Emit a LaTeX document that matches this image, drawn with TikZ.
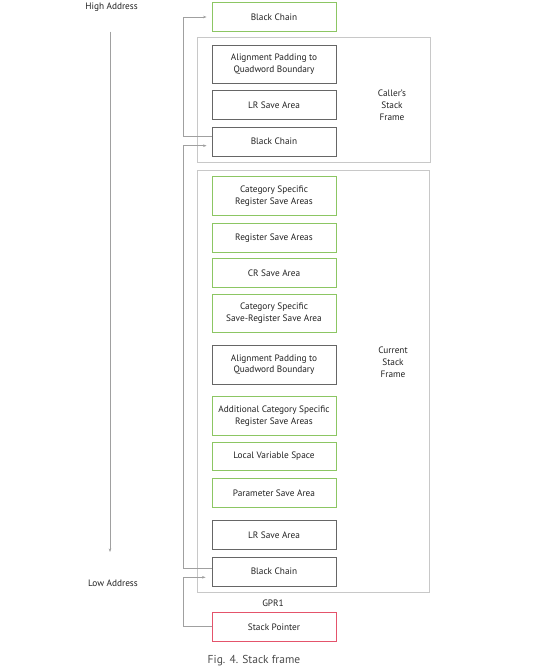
\documentclass[tikz,border=0pt]{standalone}
\usepackage{fontspec}
\setmainfont{PT Sans}
\usetikzlibrary{arrows.meta}
\definecolor{gborder}{HTML}{8CC663}
\definecolor{dborder}{HTML}{666666}
\definecolor{rborder}{HTML}{E4536B}
\definecolor{frameC}{HTML}{C8C8C8}
\definecolor{connC}{HTML}{A0A0A0}
\definecolor{txtC}{HTML}{222222}
\tikzset{
  box/.style={draw, line width=0.9pt, minimum width=124pt, align=center, inner sep=1pt,
    text=txtC, font=\fontsize{9.3}{11.8}\selectfont},
  one/.style={minimum height=28.7pt},
  two/.style={minimum height=38.6pt},
  gbox/.style={box, draw=gborder},
  dbox/.style={box, draw=dborder},
  rbox/.style={box, draw=rborder},
  frameb/.style={draw=frameC, line width=0.9pt},
  conn/.style={draw=connC, line width=0.7pt},
  arr/.style={conn, -{Stealth[length=3.5pt,width=2.6pt]}},
  lbl/.style={text=txtC, align=center, font=\fontsize{9.3}{12}\selectfont}
}
\begin{document}
\begin{tikzpicture}[x=1pt,y=-1pt]
\useasboundingbox (0,0) rectangle (554,670);
% frames
\draw[frameb] (197.5,37.7) rectangle (430,162.7);
\draw[frameb] (197.5,170.7) rectangle (429.5,592.7);
% boxes
\node[gbox,one] (bc1) at (274,17) {Black Chain};
\node[dbox,two] (al1) at (274,64.5) {Alignment Padding to\\Quadword Boundary};
\node[dbox,one] (lr1) at (274,105) {LR Save Area};
\node[dbox,one] (bc2) at (274,141.7) {Black Chain};
\node[gbox,two] (csr) at (274,196.2) {Category Specific\\Register Save Areas};
\node[gbox,one] (rsa) at (274,237.7) {Register Save Areas};
\node[gbox,one] (cr) at (274,272.8) {CR Save Area};
\node[gbox,two] (css) at (274,313.3) {Category Specific\\Save-Register Save Area};
\node[dbox,two] (al2) at (274,364.7) {Alignment Padding to\\Quadword Boundary};
\node[gbox,two] (acs) at (274,416.2) {Additional Category Specific\\Register Save Areas};
\node[gbox,one] (lvs) at (274,456.5) {Local Variable Space};
\node[gbox,one] (psa) at (274,492.8) {Parameter Save Area};
\node[dbox,one] (lr2) at (274,535) {LR Save Area};
\node[dbox,one] (bc3) at (274,571.7) {Black Chain};
\node[rbox,one] (sp) at (274,626.8) {Stack Pointer};
% labels
\node[lbl] (caller) at (392,105) {Caller's\\Stack\\Frame};
\node[lbl] (current) at (393,362) {Current\\Stack\\Frame};
\node[lbl] (gpr) at (273,603) {GPR1};
\node[lbl] (high) at (111.5,7) {High Address};
\node[lbl] (low) at (113,583) {Low Address};
\node[text=black!70, font=\fontsize{11.5}{13}\selectfont] (cap) at (254,661) {Fig. 4. Stack frame};
% address arrow
\coordinate (atop) at (110,31.7);
\coordinate (abot) at (110,552);
\draw[arr] (atop) -- (abot);
% connectors
\draw[arr] ([yshift=5pt]bc2.west) -- ++(-28.5,0) |- ([xshift=-5pt]bc1.west);
\draw[arr] ([yshift=3.7pt]bc3.west) -- ++(-28,0) |- ([xshift=-5pt,yshift=-4pt]bc2.west);
\draw[arr] (sp.west) -- ++(-28.5,0) |- ([xshift=-6pt,yshift=-5.6pt]bc3.west);
\end{tikzpicture}
\end{document}
